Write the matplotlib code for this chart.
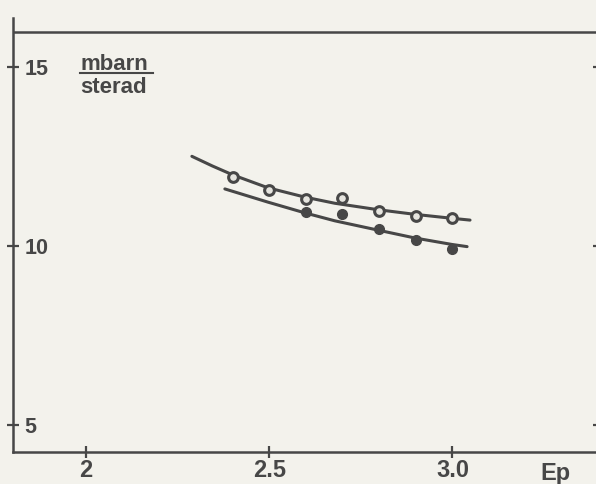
import matplotlib
matplotlib.use("Agg")
import matplotlib.pyplot as plt
from matplotlib.lines import Line2D

# measured points, open circles (upper set)
e_open = [2.4, 2.5, 2.6, 2.7, 2.8, 2.9, 3.0]
sigma_open = [11.93, 11.56, 11.31, 11.34, 10.98, 10.84, 10.78]

# measured points, filled circles (lower set)
e_filled = [2.6, 2.7, 2.8, 2.9, 3.0]
sigma_filled = [10.95, 10.89, 10.47, 10.17, 9.92]

# hand-drawn curves
e_curve_up = [2.289, 2.345, 2.401, 2.497, 2.598, 2.679, 2.797, 2.898, 2.999, 3.048]
sigma_curve_up = [12.50, 12.23, 11.98, 11.62, 11.36, 11.19, 11.01, 10.88, 10.77, 10.72]
e_curve_lo = [2.379, 2.497, 2.598, 2.679, 2.797, 2.898, 2.999, 3.040]
sigma_curve_lo = [11.59, 11.22, 10.92, 10.70, 10.44, 10.22, 10.04, 9.98]

x_ticks = [2.0, 2.5, 3.0]
x_ticklabels = ["2", "2.5", "3.0"]
y_ticks = [5, 10, 15]
y_ticklabels = ["5", "10", "15"]

INK = "#474747"
PAPER = "#f3f2ec"

plt.rcParams["font.family"] = ["Liberation Sans", "DejaVu Sans"]
plt.rcParams["font.weight"] = "bold"

W, H = 596, 484
fig = plt.figure(figsize=(W / 100, H / 100), dpi=100, facecolor=PAPER)
ax = fig.add_axes([12.7 / W, 1 - 452.3 / H, (599 - 12.7) / W, (452.3 - 18) / H])
ax.set_facecolor(PAPER)

ax.plot(e_curve_up, sigma_curve_up, color=INK, lw=2.2, solid_capstyle="round")
ax.plot(e_curve_lo, sigma_curve_lo, color=INK, lw=2.2, solid_capstyle="round")
ax.plot(e_open, sigma_open, "o", ms=7, mfc="#e6e5df", mec=INK, mew=2.2)
ax.plot(e_filled, sigma_filled, "o", ms=7, mfc=INK, mec=INK, mew=1.0)

ax.set_xlim(1.80, 3.40)
ax.set_ylim(4.24, 16.36)

# top frame line of the original plate
ax.axhline(15.98, color=INK, lw=1.8)

for side in ("top", "right"):
    ax.spines[side].set_visible(False)
for side in ("left", "bottom"):
    ax.spines[side].set_color(INK)
    ax.spines[side].set_linewidth(1.8)

ax.set_xticks(x_ticks)
ax.set_xticklabels(x_ticklabels, fontsize=17, color=INK)
ax.set_yticks(y_ticks)
ax.set_yticklabels(y_ticklabels, fontsize=15.5, color=INK)
ax.tick_params(axis="x", direction="inout", length=8, width=1.6, color=INK, pad=1)
ax.tick_params(axis="y", direction="inout", length=8, width=1.6, color=INK,
               pad=-12.5, right=True, labelright=False)
for lab in ax.get_yticklabels():
    lab.set_horizontalalignment("left")

# unit label: mbarn over sterad
fig.text(80 / W, 1 - 70 / H, "mbarn", fontsize=16, color=INK, va="baseline")
fig.text(80 / W, 1 - 93 / H, "sterad", fontsize=16, color=INK, va="baseline")
fig.add_artist(Line2D([80 / W, 153 / W], [1 - 73 / H, 1 - 73 / H],
                      transform=fig.transFigure, color=INK, lw=1.5))

fig.text(540 / W, 1 - 480 / H, "Ep", fontsize=17, color=INK, va="baseline")

fig.savefig("out.png", dpi=100, facecolor=PAPER)
